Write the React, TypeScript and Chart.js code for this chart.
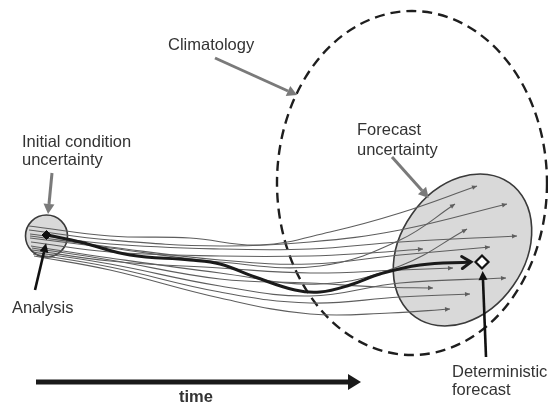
import React, { useEffect, useRef } from "react";
import { Chart, registerables } from "chart.js";

Chart.register(...registerables);

type P = [number, number];

// Diagram coordinate space (x to the right, y downward)
const X_RANGE: P = [0, 548];
const Y_RANGE: P = [0, 405];

// Control (deterministic) trajectory
const controlRun: P[] = [
  [47, 235], [80, 242], [130, 255], [190, 260], [220, 264], [255, 277],
  [295, 290], [320, 292], [350, 285], [380, 274], [420, 265], [471, 262],
];

// Ensemble member trajectories
const member01: P[] = [[29, 226], [110, 236], [190, 238], [260, 245], [330, 232], [400, 213], [477, 186]];
const member02: P[] = [[30, 238], [110, 248], [220, 262], [320, 266], [400, 240], [455, 204]];
const member03: P[] = [[29, 230], [110, 240], [220, 246], [310, 242], [400, 230], [507, 204]];
const member04: P[] = [[31, 246], [110, 258], [220, 273], [320, 284], [400, 266], [467, 229]];
const member05: P[] = [[30, 234], [110, 244], [220, 249], [310, 249], [400, 242], [517, 236]];
const member06: P[] = [[31, 242], [110, 252], [220, 256], [310, 256], [370, 253], [423, 249]];
const member07: P[] = [[30, 236], [110, 247], [220, 260], [310, 264], [400, 255], [490, 247]];
const member08: P[] = [[32, 250], [110, 261], [220, 268], [310, 273], [400, 270], [453, 268]];
const member09: P[] = [[32, 248], [110, 260], [220, 279], [310, 283], [380, 287], [433, 288]];
const member10: P[] = [[33, 252], [110, 264], [220, 286], [310, 296], [400, 283], [506, 278]];
const member11: P[] = [[33, 254], [110, 267], [220, 292], [310, 303], [400, 297], [470, 294]];
const member12: P[] = [[34, 256], [110, 270], [220, 298], [310, 314], [390, 313], [450, 309]];
const members: P[][] = [
  member01, member02, member03, member04, member05, member06,
  member07, member08, member09, member10, member11, member12,
];

// Marked states
const analysisPoint: P[] = [[46.5, 235]];
const deterministicPoint: P[] = [[482, 262]];

// Pointer arrows (start, base of the arrow head)
const climatologyPointer: P[] = [[215, 58], [288, 91]];
const initialPointer: P[] = [[52, 173], [49, 204]];
const forecastPointer: P[] = [[392, 157], [422, 190.5]];
const analysisPointer: P[] = [[35, 290], [44, 252]];
const deterministicPointer: P[] = [[486, 357], [483, 280]];
const timeAxis: P[] = [[36, 382], [348, 382]];

// Uncertainty regions: centre x, centre y, semi-axis x, semi-axis y, rotation (deg)
const climatologyRegion = [412, 183, 135, 172, 0];
const initialRegion = [46.5, 236, 21, 21, 0];
const forecastRegion = [462.5, 250, 82, 62, -55];

// Text labels: text, x, y (baseline)
const labelTexts = ["Climatology", "Initial condition", "uncertainty", "Analysis", "Forecast", "uncertainty", "Deterministic", "forecast"];
const labelX = [168, 22, 22, 12, 357, 357, 452, 452];
const labelY = [50, 147, 165, 313, 135, 155, 377, 395];
const timeLabel = "time";
const timeLabelPos: P = [196, 402];

const toXY = (pts: P[]) => pts.map(([x, y]) => ({ x, y }));

function drawHead(
  ctx: CanvasRenderingContext2D,
  ex: number, ey: number, fx: number, fy: number,
  len: number, half: number, mode: string, color: string, lw: number, at: string
) {
  let dx = ex - fx, dy = ey - fy;
  const d = Math.hypot(dx, dy) || 1;
  dx /= d; dy /= d;
  let tx = ex, ty = ey;
  if (at === "base") { tx = ex + dx * len; ty = ey + dy * len; }
  const bx = tx - dx * len, by = ty - dy * len;
  const nx = -dy, ny = dx;
  ctx.save();
  if (mode === "open") {
    ctx.strokeStyle = color;
    ctx.lineWidth = lw;
    ctx.lineCap = "round";
    ctx.lineJoin = "miter";
    ctx.beginPath();
    ctx.moveTo(bx + nx * half, by + ny * half);
    ctx.lineTo(tx, ty);
    ctx.lineTo(bx - nx * half, by - ny * half);
    ctx.stroke();
  } else {
    ctx.fillStyle = color;
    ctx.beginPath();
    ctx.moveTo(tx, ty);
    ctx.lineTo(bx + nx * half, by + ny * half);
    ctx.lineTo(bx - nx * half, by - ny * half);
    ctx.closePath();
    ctx.fill();
  }
  ctx.restore();
}

const diagramPlugin = {
  id: "diagram",
  beforeDatasetsDraw(chart: any) {
    const { ctx } = chart;
    const xs = chart.scales.x, ys = chart.scales.y;
    const ell = (r: number[]) => {
      const cx = xs.getPixelForValue(r[0]);
      const cy = ys.getPixelForValue(r[1]);
      const rx = Math.abs(xs.getPixelForValue(r[0] + r[2]) - cx);
      const ry = Math.abs(ys.getPixelForValue(r[1] + r[3]) - cy);
      ctx.beginPath();
      ctx.ellipse(cx, cy, rx, ry, (r[4] * Math.PI) / 180, 0, Math.PI * 2);
    };
    ctx.save();
    ell(forecastRegion);
    ctx.fillStyle = "#d9d9d9";
    ctx.fill();
    ctx.strokeStyle = "#3a3a3a";
    ctx.lineWidth = 1.6;
    ctx.stroke();
    ell(initialRegion);
    ctx.fillStyle = "#d9d9d9";
    ctx.fill();
    ctx.strokeStyle = "#3a3a3a";
    ctx.lineWidth = 1.6;
    ctx.stroke();
    ell(climatologyRegion);
    ctx.setLineDash([10, 6]);
    ctx.strokeStyle = "#1e1e1e";
    ctx.lineWidth = 2.4;
    ctx.stroke();
    ctx.restore();
  },
  afterDatasetsDraw(chart: any) {
    const { ctx } = chart;
    const xs = chart.scales.x, ys = chart.scales.y;
    chart.data.datasets.forEach((ds: any, i: number) => {
      const h = ds.arrowHead;
      if (!h) return;
      const pts = chart.getDatasetMeta(i).data;
      const last = pts[pts.length - 1];
      let fx = last.cp1x, fy = last.cp1y;
      if (fx === undefined || Math.hypot(last.x - fx, last.y - fy) < 0.5) {
        fx = pts[pts.length - 2].x;
        fy = pts[pts.length - 2].y;
      }
      drawHead(ctx, last.x, last.y, fx, fy, h.len, h.half, h.mode, ds.borderColor, h.lw || 1, h.at);
    });
    ctx.save();
    ctx.fillStyle = "#333333";
    ctx.textBaseline = "alphabetic";
    ctx.textAlign = "left";
    ctx.font = '16.5px "Liberation Sans", Arial, sans-serif';
    labelTexts.forEach((t, i) => {
      ctx.fillText(t, xs.getPixelForValue(labelX[i]), ys.getPixelForValue(labelY[i]));
    });
    ctx.font = 'bold 16.5px "Liberation Sans", Arial, sans-serif';
    ctx.textAlign = "center";
    ctx.fillText(timeLabel, xs.getPixelForValue(timeLabelPos[0]), ys.getPixelForValue(timeLabelPos[1]));
    ctx.restore();
  },
};

export default function App() {
  const ref = useRef<HTMLCanvasElement | null>(null);
  useEffect(() => {
    document.body.style.margin = "0";
    document.body.style.overflow = "hidden";
    if (!ref.current) return;
    const line = (pts: P[], color: string, width: number, extra: any = {}) => ({
      data: toXY(pts),
      showLine: true,
      borderColor: color,
      backgroundColor: color,
      borderWidth: width,
      pointRadius: 0,
      tension: 0.4,
      fill: false,
      clip: false,
      ...extra,
    });
    const datasets: any[] = [
      {
        data: toXY(deterministicPoint),
        pointStyle: "rectRot",
        pointRadius: 6.5,
        pointBorderWidth: 2.2,
        pointBorderColor: "#111",
        pointBackgroundColor: "#ffffff",
        showLine: false,
      },
      {
        data: toXY(analysisPoint),
        pointStyle: "rectRot",
        pointRadius: 4.5,
        pointBorderWidth: 1,
        pointBorderColor: "#111",
        pointBackgroundColor: "#111",
        showLine: false,
      },
      line(analysisPointer, "#111111", 2.6, { tension: 0, arrowHead: { len: 9, half: 4.5, mode: "fill", at: "base" } }),
      line(deterministicPointer, "#111111", 2.6, { tension: 0, arrowHead: { len: 9, half: 4.5, mode: "fill", at: "base" } }),
      line(timeAxis, "#1a1a1a", 5, { tension: 0, borderCapStyle: "butt", arrowHead: { len: 13, half: 8, mode: "fill", at: "base" } }),
      line(climatologyPointer, "#7a7a7a", 3, { tension: 0, arrowHead: { len: 10, half: 5.5, mode: "fill", at: "base" } }),
      line(initialPointer, "#7a7a7a", 3, { tension: 0, arrowHead: { len: 10, half: 5.5, mode: "fill", at: "base" } }),
      line(forecastPointer, "#7a7a7a", 3, { tension: 0, arrowHead: { len: 10, half: 5.5, mode: "fill", at: "base" } }),
      line(controlRun, "#1a1a1a", 3, { arrowHead: { len: 9, half: 6, mode: "open", lw: 3, at: "tip" } }),
      ...members.map((m) =>
        line(m, "#5e5e5e", 1.1, { arrowHead: { len: 5, half: 2.3, mode: "fill", at: "tip" } })
      ),
    ];
    const chart = new Chart(ref.current, {
      type: "scatter",
      data: { datasets },
      options: {
        animation: false,
        responsive: false,
        maintainAspectRatio: false,
        devicePixelRatio: 1,
        layout: { padding: 0, autoPadding: false },
        plugins: { legend: { display: false }, tooltip: { enabled: false } },
        events: [],
        scales: {
          x: { type: "linear", min: X_RANGE[0], max: X_RANGE[1], display: false },
          y: { type: "linear", min: Y_RANGE[0], max: Y_RANGE[1], reverse: true, display: false },
        },
      },
      plugins: [diagramPlugin],
    } as any);
    return () => chart.destroy();
  }, []);
  return (
    <div style={{ width: 548, height: 405, background: "#fff" }}>
      <canvas ref={ref} width={548} height={405} style={{ display: "block" }} />
    </div>
  );
}
